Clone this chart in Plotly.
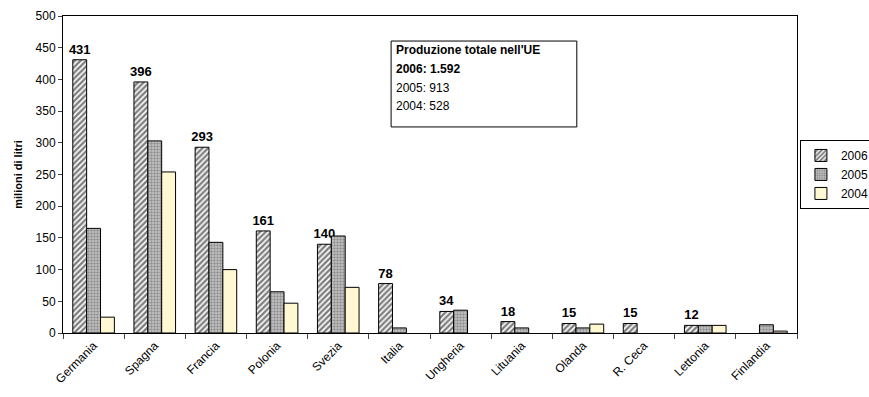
import plotly.graph_objects as go

paesi = ['Germania', 'Spagna', 'Francia', 'Polonia', 'Svezia', 'Italia', 'Ungheria',
         'Lituania', 'Olanda', 'R. Ceca', 'Lettonia', 'Finlandia']
anni = ['2006', '2005', '2004']
prod_2006 = [431, 396, 293, 161, 140, 78, 34, 18, 15, 15, 12, None]
prod_2005 = [165, 303, 143, 65, 153, 8, 36, 8, 8, None, 12, 13]
prod_2004 = [25, 254, 100, 47, 72, None, None, None, 14, None, 12, 3]
totali_ue = ["Produzione totale nell'UE", '2006: 1.592', '2005: 913', '2004: 528']

FONT = 'Liberation Sans, Arial, sans-serif'

# etichette solo sulle barre 2006
etichette = ['<b>{}</b>'.format(v) if v else '' for v in prod_2006]

fig = go.Figure(data=[
    go.Bar(x=paesi, y=prod_2006, name=anni[0], text=etichette, textposition='outside',
           constraintext='none',
           textfont=dict(size=13, color='black', family=FONT), cliponaxis=False,
           marker=dict(color='white', line=dict(color='black', width=1),
                       pattern=dict(shape='/', fgcolor='#000000', bgcolor='white', size=4, solidity=0.6))),
    go.Bar(x=paesi, y=prod_2005, name=anni[1],
           marker=dict(color='#999999', line=dict(color='black', width=1),
                       pattern=dict(shape='.', fgcolor='#555555', bgcolor='#c8c8c8', size=3, solidity=0.5))),
    go.Bar(x=paesi, y=prod_2004, name=anni[2],
           marker=dict(color='#fff8d2', line=dict(color='black', width=1))),
])

fig.update_layout(
    autosize=False,
    width=869,
    height=397,
    plot_bgcolor='white',
    paper_bgcolor='white',
    barmode='group',
    bargap=0.32,
    bargroupgap=0,
    font=dict(family=FONT, size=11, color='black'),
    margin=go.layout.Margin(l=63, r=72, b=64, t=16, autoexpand=False),
    legend=go.layout.Legend(x=1.004, y=0.609, xanchor='left', yanchor='top',
                            bordercolor='black', borderwidth=1, bgcolor='white',
                            font=dict(size=12), itemwidth=30, tracegroupgap=0),
    xaxis=dict(
        showline=True,
        linewidth=1,
        linecolor='black',
        mirror=True,
        ticks='outside',
        tickson='boundaries',
        ticklen=5,
        tickangle=-45,
        tickfont=dict(size=12, color='black'),
    ),
    yaxis=dict(
        title=dict(text='<b>milioni di litri</b>', font=dict(size=11), standoff=10),
        showline=True,
        linewidth=1,
        linecolor='black',
        mirror=True,
        ticks='outside',
        ticklen=4,
        showgrid=False,
        range=[0, 500],
        dtick=50,
        tickfont=dict(size=12),
    ),
    shapes=[dict(type='rect', xref='paper', yref='paper', x0=0.447, x1=0.700, y0=0.650, y1=0.921,
                 line=dict(color='black', width=1), fillcolor='white', layer='above')],
)

righe_y = [0.893, 0.833, 0.773, 0.716]
for i, (riga, ry) in enumerate(zip(totali_ue, righe_y)):
    fig.add_annotation(x=0.451, y=ry, xref='paper', yref='paper', xanchor='left', yanchor='middle',
                       text='<b>{}</b>'.format(riga) if i < 2 else riga,
                       showarrow=False, font=dict(size=12, family=FONT, color='black'))

# niente margine del body, così il grafico parte da 0,0 della finestra
fig.write_html('out.html', config={'displayModeBar': False},
               post_script="document.body.style.margin='0';")
